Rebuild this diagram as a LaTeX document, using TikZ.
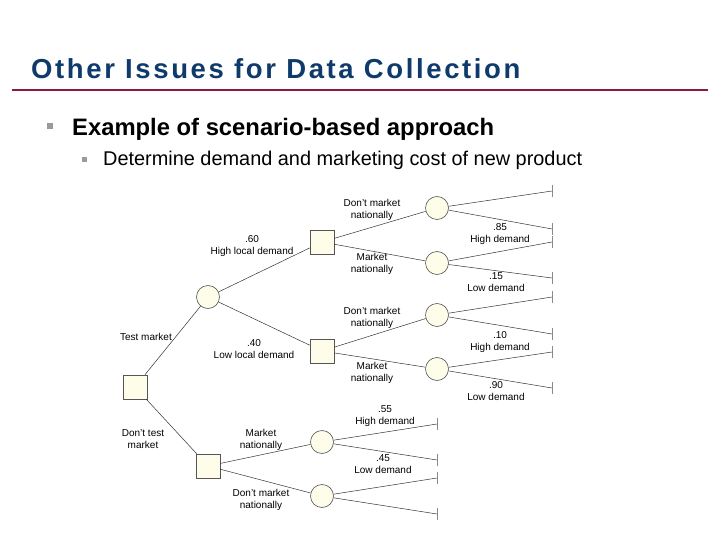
\documentclass[tikz,border=0pt]{standalone}
\usepackage{fontspec}
\setmainfont{Liberation Sans}
\definecolor{titleblue}{HTML}{0F3A6C}
\definecolor{rulered}{HTML}{8A1A3B}
\definecolor{cream}{HTML}{FDFDE9}
\definecolor{nodeborder}{HTML}{555555}
\definecolor{bulletgray}{HTML}{9A9A9A}
\definecolor{tickgray}{HTML}{8A8A8A}
\begin{document}
\begin{tikzpicture}[x=1pt,y=-1pt,
  decbox/.style={rectangle,draw=nodeborder,fill=cream,minimum size=24pt,inner sep=0pt,line width=0.6pt},
  chancebox/.style={circle,draw=nodeborder,fill=cream,minimum size=23pt,inner sep=0pt,line width=0.6pt},
  branch/.style={draw=black!80,line width=0.5pt},
  endtick/.style={draw=tickgray,line width=0.6pt},
  lbl/.style={font=\fontsize{10}{12}\selectfont,align=center,inner sep=0pt},
  bulletsq/.style={rectangle,fill=bulletgray,inner sep=0pt}]
\useasboundingbox (0,0) rectangle (720,540);
% title
\node[anchor=base west,inner sep=0pt,text=titleblue,font=\fontsize{27.5}{32}\bfseries\addfontfeatures{LetterSpace=9.5}\selectfont] (title) at (31,79) {Other Issues for Data Collection};
\draw[rulered,line width=2.5pt] (12,90) -- (708,90);
% bullets
\node[bulletsq,minimum size=6.5pt] (b1) at (50,126) {};
\node[anchor=base west,inner sep=0pt,font=\fontsize{23.8}{28}\bfseries\selectfont] (t1) at (72,136) {Example of scenario-based approach};
\node[bulletsq,minimum size=5pt] (b2) at (84,160) {};
\node[anchor=base west,inner sep=0pt,font=\fontsize{19.9}{23}\selectfont] (t2) at (103,166) {Determine demand and marketing cost of new product};
% tree nodes
\node[decbox] (root) at (135,387) {};
\node[chancebox] (test) at (208,297) {};
\node[decbox] (hi) at (322,242) {};
\node[decbox] (lo) at (322,351) {};
\node[decbox] (nt) at (208,466) {};
\node[chancebox] (c1) at (437,208) {};
\node[chancebox] (c2) at (437,263) {};
\node[chancebox] (c3) at (437,315) {};
\node[chancebox] (c4) at (437,369) {};
\node[chancebox] (c5) at (322,442) {};
\node[chancebox] (c6) at (322,496) {};
% end points
\foreach \n/\x/\y in {e1/552/191,e2/552/229,e3/552/242,e4/552/278,e5/552/297,e6/552/334,e7/552/352,e8/552/388,e9/437/424,e10/437/460,e11/437/478,e12/437/514}{
  \coordinate (\n) at (\x,\y);
  \draw[endtick] ([yshift=-6pt]\n) -- ([yshift=6pt]\n);
}
% connectors
\draw[branch] (root) -- (test);
\draw[branch] (root) -- (nt);
\draw[branch] (test) -- (hi);
\draw[branch] (test) -- (lo);
\draw[branch] (hi) -- (c1);
\draw[branch] (hi) -- (c2);
\draw[branch] (lo) -- (c3);
\draw[branch] (lo) -- (c4);
\draw[branch] (nt) -- (c5);
\draw[branch] (nt) -- (c6);
\draw[branch] (c1) -- (e1);
\draw[branch] (c1) -- (e2);
\draw[branch] (c2) -- (e3);
\draw[branch] (c2) -- (e4);
\draw[branch] (c3) -- (e5);
\draw[branch] (c3) -- (e6);
\draw[branch] (c4) -- (e7);
\draw[branch] (c4) -- (e8);
\draw[branch] (c5) -- (e9);
\draw[branch] (c5) -- (e10);
\draw[branch] (c6) -- (e11);
\draw[branch] (c6) -- (e12);
% labels
\node[lbl,anchor=east] (l1) at (172,337) {Test market};
\node[lbl] (l2) at (143,439) {Don’t test\\market};
\node[lbl] (l3) at (252,246) {.60\\High local demand};
\node[lbl] (l4) at (254,349) {.40\\Low local demand};
\node[lbl] (l5) at (372,210) {Don’t market\\nationally};
\node[lbl] (l6) at (372,264) {Market\\nationally};
\node[lbl] (l7) at (372,318) {Don’t market\\nationally};
\node[lbl] (l8) at (372,373) {Market\\nationally};
\node[lbl] (l9) at (500,234) {.85\\High demand};
\node[lbl] (l10) at (496,282) {.15\\Low demand};
\node[lbl] (l11) at (500,342) {.10\\High demand};
\node[lbl] (l12) at (496,391) {.90\\Low demand};
\node[lbl] (l13) at (261,440) {Market\\nationally};
\node[lbl] (l14) at (261,500) {Don’t market\\nationally};
\node[lbl] (l15) at (385,416) {.55\\High demand};
\node[lbl] (l16) at (383,464) {.45\\Low demand};
\end{tikzpicture}
\end{document}
